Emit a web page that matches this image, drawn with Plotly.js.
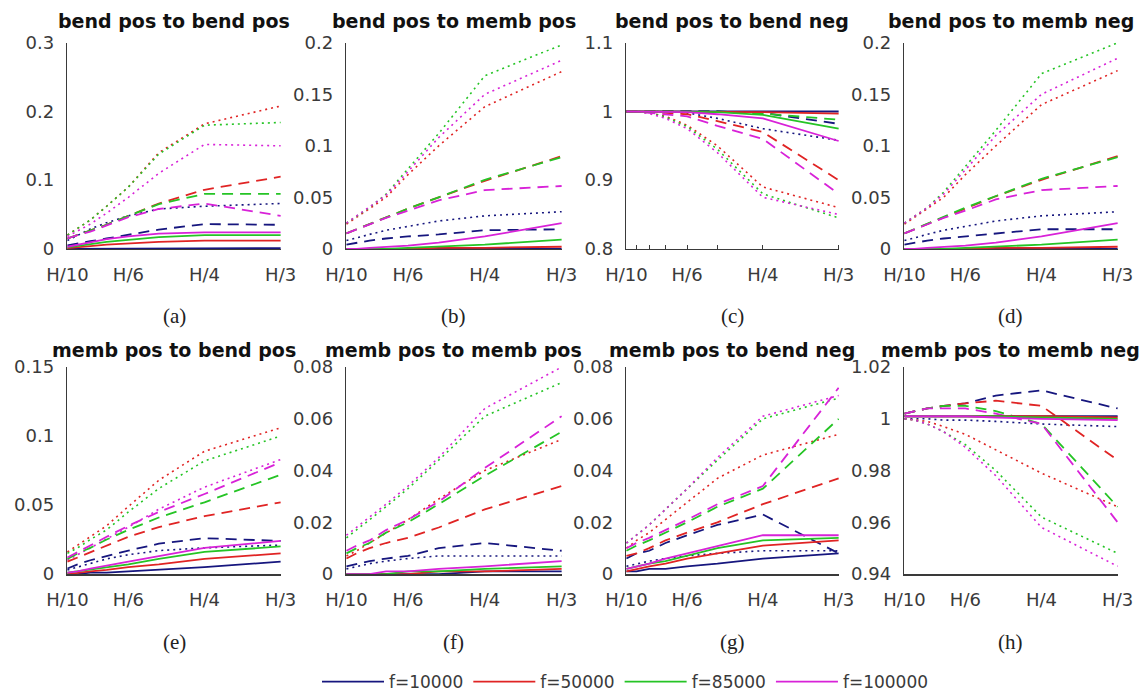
<!DOCTYPE html>
<html>
<head>
<meta charset="utf-8">
<script src="https://cdn.plot.ly/plotly-3.0.1.min.js"></script>
<style>
  html, body { margin: 0; padding: 0; background: #ffffff; }
  #chart { width: 1148px; height: 700px; }
</style>
</head>
<body>
<div id="chart"></div>
<script>
// ---------------- DATA ----------------
// x positions: H/10, H/9, H/8, H/7, H/6, H/5, H/4, H/3 (as fractions of H)
const X = [0.1, 0.1111, 0.125, 0.1429, 0.1667, 0.2, 0.25, 0.3333];
const X_TICKS = [0.1, 0.1667, 0.25, 0.3333];
const X_TICK_TEXT = ['H/10', 'H/6', 'H/4', 'H/3'];

const SERIES_NAMES = ['f=10000', 'f=50000', 'f=85000', 'f=100000'];
const PANEL_TITLES = ['bend pos to bend pos', 'bend pos to memb pos', 'bend pos to bend neg', 'bend pos to memb neg',
                      'memb pos to bend pos', 'memb pos to memb pos', 'memb pos to bend neg', 'memb pos to memb neg'];
const PANEL_LETTERS = ['(a)', '(b)', '(c)', '(d)', '(e)', '(f)', '(g)', '(h)'];

// each style array: rows = [f=10000, f=50000, f=85000, f=100000]
// (a) bend pos to bend pos
const aSolid = [
  [0, 0, 0, 0, 0.001, 0.001, 0.001, 0.001],
  [0.001, 0.002, 0.004, 0.006, 0.008, 0.010, 0.012, 0.012],
  [0.002, 0.004, 0.007, 0.010, 0.013, 0.017, 0.020, 0.020],
  [0.003, 0.006, 0.010, 0.014, 0.018, 0.022, 0.024, 0.024]];
const aDash = [
  [0.005, 0.008, 0.011, 0.015, 0.020, 0.028, 0.036, 0.035],
  [0.015, 0.020, 0.026, 0.035, 0.048, 0.066, 0.086, 0.105],
  [0.015, 0.020, 0.026, 0.035, 0.048, 0.065, 0.080, 0.080],
  [0.015, 0.020, 0.025, 0.034, 0.046, 0.058, 0.066, 0.048]];
const aDot = [
  [0.012, 0.020, 0.029, 0.038, 0.048, 0.058, 0.062, 0.066],
  [0.020, 0.030, 0.042, 0.062, 0.090, 0.140, 0.182, 0.208],
  [0.020, 0.030, 0.042, 0.062, 0.090, 0.138, 0.180, 0.184],
  [0.018, 0.026, 0.036, 0.052, 0.075, 0.110, 0.152, 0.150]];
const aYTicks = [0, 0.1, 0.2, 0.3];
const aYText = ['0', '0.1', '0.2', '0.3'];

// (b) bend pos to memb pos
const bSolid = [
  [0, 0, 0, 0, 0, 0, 0, 0],
  [0, 0, 0, 0, 0, 0.001, 0.001, 0.002],
  [0, 0, 0, 0, 0.001, 0.002, 0.004, 0.009],
  [0, 0, 0.001, 0.002, 0.003, 0.006, 0.012, 0.025]];
const bDash = [
  [0.004, 0.006, 0.008, 0.010, 0.012, 0.014, 0.018, 0.019],
  [0.015, 0.019, 0.024, 0.031, 0.039, 0.050, 0.066, 0.090],
  [0.015, 0.019, 0.024, 0.031, 0.039, 0.050, 0.067, 0.089],
  [0.015, 0.019, 0.024, 0.030, 0.037, 0.047, 0.057, 0.061]];
const bDot = [
  [0.008, 0.011, 0.014, 0.018, 0.022, 0.027, 0.032, 0.036],
  [0.024, 0.031, 0.039, 0.050, 0.072, 0.100, 0.138, 0.172],
  [0.025, 0.032, 0.040, 0.053, 0.078, 0.112, 0.168, 0.198],
  [0.025, 0.032, 0.040, 0.052, 0.075, 0.108, 0.150, 0.183]];
const bYTicks = [0, 0.05, 0.1, 0.15, 0.2];
const bYText = ['0', '0.05', '0.1', '0.15', '0.2'];

// (c) bend pos to bend neg
const cSolid = [
  [1, 1, 1, 1, 1, 1, 1, 1],
  [1, 1, 1, 1, 1, 1, 0.999, 0.997],
  [1, 1, 1, 1, 1, 0.999, 0.995, 0.975],
  [1, 1, 1, 1, 0.999, 0.996, 0.990, 0.957]];
const cDash = [
  [1, 1, 1, 1, 1, 1, 0.998, 0.982],
  [1, 1, 0.999, 0.998, 0.996, 0.986, 0.970, 0.900],
  [1, 1, 1, 1, 1, 1, 0.997, 0.988],
  [1, 1, 0.998, 0.996, 0.993, 0.979, 0.960, 0.880]];
const cDot = [
  [1, 1, 1, 1, 0.998, 0.990, 0.975, 0.958],
  [1, 1, 0.998, 0.993, 0.980, 0.950, 0.890, 0.860],
  [1, 1, 0.998, 0.992, 0.978, 0.945, 0.880, 0.845],
  [1, 1, 0.997, 0.990, 0.975, 0.940, 0.875, 0.850]];
const cYTicks = [0.8, 0.9, 1, 1.1];
const cYText = ['0.8', '0.9', '1', '1.1'];

// (d) bend pos to memb neg
const dSolid = [
  [0, 0, 0, 0, 0, 0, 0, 0],
  [0, 0, 0, 0, 0, 0.001, 0.001, 0.002],
  [0, 0, 0, 0, 0.001, 0.002, 0.004, 0.009],
  [0, 0, 0.001, 0.002, 0.003, 0.006, 0.012, 0.025]];
const dDash = [
  [0.004, 0.006, 0.008, 0.010, 0.012, 0.015, 0.019, 0.019],
  [0.015, 0.019, 0.024, 0.031, 0.039, 0.051, 0.067, 0.090],
  [0.015, 0.019, 0.024, 0.031, 0.040, 0.051, 0.068, 0.089],
  [0.015, 0.019, 0.024, 0.030, 0.037, 0.048, 0.057, 0.061]];
const dDot = [
  [0.008, 0.011, 0.014, 0.018, 0.022, 0.027, 0.032, 0.036],
  [0.024, 0.031, 0.039, 0.050, 0.072, 0.100, 0.140, 0.173],
  [0.025, 0.032, 0.040, 0.055, 0.080, 0.115, 0.170, 0.200],
  [0.025, 0.032, 0.040, 0.053, 0.077, 0.110, 0.150, 0.185]];
const dYTicks = [0, 0.05, 0.1, 0.15, 0.2];
const dYText = ['0', '0.05', '0.1', '0.15', '0.2'];

// (e) memb pos to bend pos
const eSolid = [
  [0, 0, 0.001, 0.001, 0.002, 0.003, 0.005, 0.009],
  [0, 0.001, 0.002, 0.003, 0.005, 0.007, 0.011, 0.015],
  [0.001, 0.002, 0.003, 0.005, 0.007, 0.011, 0.016, 0.020],
  [0.001, 0.002, 0.004, 0.006, 0.009, 0.013, 0.019, 0.024]];
const eDash = [
  [0.004, 0.007, 0.010, 0.013, 0.017, 0.022, 0.026, 0.024],
  [0.009, 0.012, 0.016, 0.021, 0.027, 0.034, 0.042, 0.052],
  [0.011, 0.015, 0.019, 0.025, 0.032, 0.041, 0.052, 0.072],
  [0.012, 0.016, 0.021, 0.027, 0.035, 0.045, 0.058, 0.081]];
const eDot = [
  [0.003, 0.005, 0.008, 0.011, 0.014, 0.017, 0.019, 0.021],
  [0.016, 0.021, 0.027, 0.035, 0.049, 0.068, 0.089, 0.106],
  [0.015, 0.019, 0.025, 0.032, 0.045, 0.062, 0.082, 0.100],
  [0.010, 0.014, 0.019, 0.025, 0.034, 0.047, 0.063, 0.083]];
const eYTicks = [0, 0.05, 0.1, 0.15];
const eYText = ['0', '0.05', '0.1', '0.15'];

// (f) memb pos to memb pos
const fSolid = [
  [0, 0, 0, 0, 0, 0, 0.001, 0.001],
  [0, 0, 0, 0, 0, 0.001, 0.001, 0.002],
  [0, 0, 0, 0, 0.001, 0.001, 0.002, 0.003],
  [0, 0, 0, 0.001, 0.001, 0.002, 0.003, 0.005]];
const fDash = [
  [0.003, 0.004, 0.005, 0.006, 0.007, 0.010, 0.012, 0.009],
  [0.006, 0.008, 0.010, 0.012, 0.014, 0.018, 0.025, 0.034],
  [0.008, 0.010, 0.012, 0.016, 0.020, 0.027, 0.038, 0.055],
  [0.009, 0.011, 0.013, 0.017, 0.021, 0.028, 0.041, 0.061]];
const fDot = [
  [0.002, 0.003, 0.004, 0.005, 0.006, 0.007, 0.007, 0.007],
  [0.007, 0.009, 0.012, 0.016, 0.021, 0.029, 0.040, 0.052],
  [0.014, 0.017, 0.021, 0.026, 0.033, 0.044, 0.061, 0.074],
  [0.015, 0.018, 0.022, 0.027, 0.034, 0.045, 0.064, 0.080]];
const fYTicks = [0, 0.02, 0.04, 0.06, 0.08];
const fYText = ['0', '0.02', '0.04', '0.06', '0.08'];

// (g) memb pos to bend neg
const gSolid = [
  [0.001, 0.001, 0.002, 0.002, 0.003, 0.004, 0.006, 0.008],
  [0.001, 0.002, 0.003, 0.004, 0.006, 0.008, 0.011, 0.013],
  [0.002, 0.003, 0.004, 0.005, 0.007, 0.010, 0.013, 0.014],
  [0.002, 0.003, 0.004, 0.006, 0.008, 0.011, 0.015, 0.015]];
const gDash = [
  [0.006, 0.008, 0.009, 0.012, 0.015, 0.019, 0.023, 0.008],
  [0.007, 0.008, 0.010, 0.013, 0.016, 0.020, 0.027, 0.037],
  [0.009, 0.011, 0.013, 0.016, 0.020, 0.026, 0.033, 0.060],
  [0.010, 0.012, 0.014, 0.017, 0.021, 0.027, 0.034, 0.072]];
const gDot = [
  [0.003, 0.004, 0.005, 0.006, 0.007, 0.008, 0.009, 0.009],
  [0.010, 0.013, 0.016, 0.021, 0.028, 0.037, 0.046, 0.054],
  [0.012, 0.015, 0.019, 0.025, 0.033, 0.044, 0.060, 0.068],
  [0.012, 0.015, 0.019, 0.025, 0.033, 0.045, 0.061, 0.069]];
const gYTicks = [0, 0.02, 0.04, 0.06, 0.08];
const gYText = ['0', '0.02', '0.04', '0.06', '0.08'];

// (h) memb pos to memb neg
const hSolid = [
  [1.001, 1.001, 1.001, 1.001, 1.001, 1.001, 1.001, 1.001],
  [1.001, 1.001, 1.001, 1.001, 1.001, 1.001, 1.001, 1.0005],
  [1.001, 1.001, 1.001, 1.001, 1.001, 1.001, 1.0005, 1.000],
  [1.001, 1.001, 1.001, 1.001, 1.001, 1.0005, 1.000, 0.9995]];
const hDash = [
  [1.002, 1.003, 1.004, 1.005, 1.006, 1.009, 1.011, 1.004],
  [1.002, 1.003, 1.004, 1.005, 1.006, 1.007, 1.005, 0.984],
  [1.002, 1.003, 1.004, 1.005, 1.005, 1.003, 0.998, 0.966],
  [1.002, 1.003, 1.004, 1.004, 1.004, 1.002, 0.998, 0.960]];
const hDot = [
  [1.000, 1.000, 1.000, 0.9995, 0.9995, 0.999, 0.998, 0.997],
  [1.000, 0.9995, 0.999, 0.997, 0.994, 0.988, 0.979, 0.966],
  [1.000, 0.9995, 0.998, 0.995, 0.990, 0.980, 0.962, 0.948],
  [1.000, 0.9995, 0.998, 0.995, 0.989, 0.978, 0.958, 0.943]];
const hYTicks = [0.94, 0.96, 0.98, 1, 1.02];
const hYText = ['0.94', '0.96', '0.98', '1', '1.02'];

// ---------------- STYLE ----------------
const COLORS = ['#16167e', '#e02424', '#25c425', '#d822d8'];
const COL_PX = [[67, 281], [346, 562], [626, 839], [904, 1118]];
const ROW_PX = [[43, 252], [371, 581]];
const TITLE_Y = [21, 354];
const LETTER_Y = [320, 649];
const W = 1148, H = 700;
const TICK_FONT = {family: 'DejaVu Sans, sans-serif', size: 18, color: '#3a3a3a'};

const panels = [
  {solid: aSolid, dash: aDash, dot: aDot, yt: aYTicks, ytx: aYText},
  {solid: bSolid, dash: bDash, dot: bDot, yt: bYTicks, ytx: bYText},
  {solid: cSolid, dash: cDash, dot: cDot, yt: cYTicks, ytx: cYText, minorX: true},
  {solid: dSolid, dash: dDash, dot: dDot, yt: dYTicks, ytx: dYText},
  {solid: eSolid, dash: eDash, dot: eDot, yt: eYTicks, ytx: eYText},
  {solid: fSolid, dash: fDash, dot: fDot, yt: fYTicks, ytx: fYText},
  {solid: gSolid, dash: gDash, dot: gDot, yt: gYTicks, ytx: gYText},
  {solid: hSolid, dash: hDash, dot: hDot, yt: hYTicks, ytx: hYText}
];

const traces = [];
const layout = {
  width: W, height: H,
  margin: {l: 0, r: 0, t: 0, b: 0},
  paper_bgcolor: '#ffffff', plot_bgcolor: '#ffffff',
  showlegend: true,
  legend: {
    orientation: 'h', x: 317 / W, xanchor: 'left', y: 1 - 690 / H, yanchor: 'middle',
    font: {family: 'DejaVu Sans, sans-serif', size: 17, color: '#3a3a3a'},
    itemwidth: 62, traceorder: 'normal', bgcolor: 'rgba(0,0,0,0)'
  },
  annotations: []
};

const styleOrder = [['dot', '2px,4px', 1.6], ['dash', '11px,7px', 1.8], ['solid', 'solid', 1.8]];

panels.forEach((p, i) => {
  const suffix = i === 0 ? '' : String(i + 1);
  const col = i % 4, row = Math.floor(i / 4);
  const xd = [COL_PX[col][0] / W, COL_PX[col][1] / W];
  const yd = [1 - ROW_PX[row][1] / H, 1 - ROW_PX[row][0] / H];
  const yMin = p.yt[0], yMax = p.yt[p.yt.length - 1];
  const pad = (yMax - yMin) * 0.0015;

  styleOrder.forEach(([key, dash, width]) => {
    p[key].forEach((ys, c) => {
      traces.push({
        type: 'scatter', mode: 'lines',
        x: X, y: ys,
        xaxis: 'x' + suffix, yaxis: 'y' + suffix,
        name: SERIES_NAMES[c],
        legendgroup: SERIES_NAMES[c],
        showlegend: (i === 0 && key === 'solid'),
        line: {color: COLORS[c], width: width, dash: dash},
        hoverinfo: 'skip'
      });
    });
  });

  const xa = {
    domain: xd, anchor: 'y' + suffix,
    range: [0.0995, 0.3337],
    tickmode: 'array', tickvals: X_TICKS, ticktext: X_TICK_TEXT,
    showline: true, linecolor: '#3a3a3a', linewidth: 1.2,
    ticks: '', showgrid: false, zeroline: false,
    tickfont: TICK_FONT, ticklabelstandoff: 9, fixedrange: true
  };
  if (p.minorX) {
    xa.minor = {tickmode: 'array', tickvals: X.slice(1), ticks: 'inside', ticklen: 4, tickcolor: '#3a3a3a', tickwidth: 1, showgrid: false};
  }
  layout['xaxis' + suffix] = xa;
  layout['yaxis' + suffix] = {
    domain: yd, anchor: 'x' + suffix,
    range: [yMin - pad, yMax + pad],
    tickmode: 'array', tickvals: p.yt, ticktext: p.ytx,
    showline: true, linecolor: '#3a3a3a', linewidth: 1.2,
    ticks: '', showgrid: false, zeroline: false,
    tickfont: TICK_FONT, ticklabelstandoff: 8, fixedrange: true
  };

  const cx = (xd[0] + xd[1]) / 2;
  layout.annotations.push({
    xref: 'paper', yref: 'paper', x: cx, y: 1 - TITLE_Y[row] / H,
    xanchor: 'center', yanchor: 'middle', showarrow: false,
    text: '<b>' + PANEL_TITLES[i] + '</b>',
    font: {family: 'DejaVu Sans, sans-serif', size: 19, color: '#111111'}
  });
  layout.annotations.push({
    xref: 'paper', yref: 'paper', x: cx, y: 1 - LETTER_Y[row] / H,
    xanchor: 'center', yanchor: 'middle', showarrow: false,
    text: PANEL_LETTERS[i],
    font: {family: 'Liberation Serif, Times New Roman, serif', size: 21, color: '#222222'}
  });
});

Plotly.newPlot('chart', traces, layout, {displayModeBar: false, staticPlot: true});
</script>
</body>
</html>
